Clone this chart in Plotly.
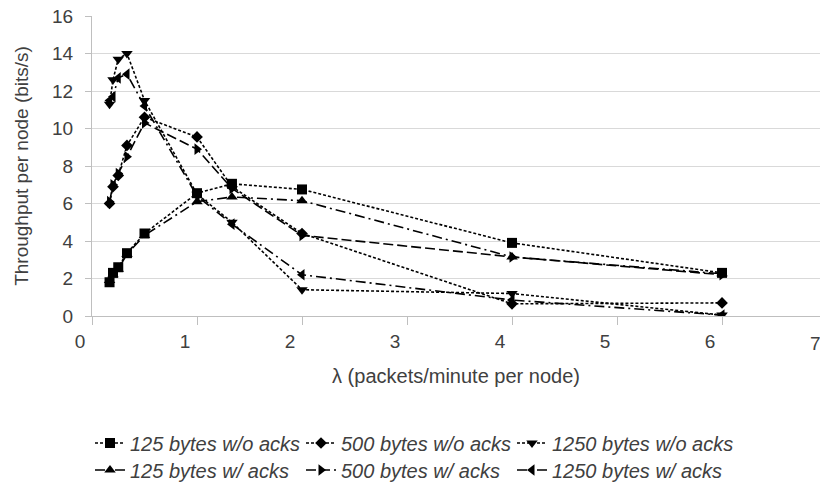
import plotly.graph_objects as go

# lambda values (packets/minute per node)
lam = [0.167, 0.2, 0.25, 0.333, 0.5, 1.0, 1.333, 2.0, 4.0, 6.0]

s125_noack = [1.8, 2.3, 2.6, 3.35, 4.4, 6.55, 7.05, 6.75, 3.9, 2.3]
s500_noack = [6.0, 6.9, 7.5, 9.1, 10.6, 9.55, 6.9, 4.4, 0.65, 0.7]
s1250_noack = [11.3, 12.6, 13.7, 14.0, 11.5, 6.5, 5.0, 1.4, 1.2, 0.05]
s125_ack = [1.9, 2.2, 2.5, 3.3, 4.3, 6.1, 6.35, 6.15, 3.15, 2.25]
s500_ack = [6.1, 7.0, 7.6, 8.5, 10.3, 8.9, 6.8, 4.3, 3.15, 2.2]
s1250_ack = [11.5, 11.7, 12.7, 12.9, 11.2, 6.4, 4.9, 2.2, 0.85, 0.05]

names = ["125 bytes w/o acks", "500 bytes w/o acks", "1250 bytes w/o acks",
         "125 bytes w/ acks", "500 bytes w/ acks", "1250 bytes w/ acks"]
series = [s125_noack, s500_noack, s1250_noack, s125_ack, s500_ack, s1250_ack]
symbols = ["square", "diamond", "triangle-down", "triangle-up", "triangle-right", "triangle-left"]
sizes = [10, 9, 10, 10, 10, 10]
dashes = ["3px,2px", "3px,2px", "3px,2px", "10px,4px,2px,4px", "10px,4px", "10px,4px,2px,4px"]
legends = ["legend", "legend", "legend", "legend2", "legend2", "legend2"]
leg_widths = [166, 166, 210, 166, 166, 210]

x_ticks = [0, 1, 2, 3, 4, 5, 6, 7]
y_ticks = [0, 2, 4, 6, 8, 10, 12, 14, 16]

TXT = "#404040"
FONT = "Liberation Sans, Arial"
fig = go.Figure()
for nm, ys, sym, sz, ds, lg, lw in zip(names, series, symbols, sizes, dashes, legends, leg_widths):
    fig.add_trace(go.Scatter(
        x=lam, y=ys, name=nm, mode="lines+markers",
        line=dict(color="black", width=1.6, dash=ds),
        marker=dict(symbol=sym, size=sz, color="black"),
        legend=lg, legendwidth=lw,
    ))

leg_common = dict(orientation="h", xref="container", yref="container",
                  xanchor="left", yanchor="middle", itemwidth=30,
                  entrywidth=166, bgcolor="rgba(0,0,0,0)",
                  font=dict(family=FONT, size=20, color=TXT, style="italic"))

fig.update_layout(
    width=820, height=483,
    margin=dict(l=92, r=0, t=16, b=167),
    plot_bgcolor="white", paper_bgcolor="white",
    showlegend=True,
    legend=dict(x=90 / 820, y=1 - 443 / 483, **leg_common),
    legend2=dict(x=90 / 820, y=1 - 470 / 483, **leg_common),
    xaxis=dict(
        range=[0, 6.933], tickmode="array", tickvals=x_ticks,
        ticktext=[str(v) for v in x_ticks],
        showgrid=False, zeroline=False,
        showline=True, linecolor="#bfbfbf", linewidth=1,
        ticks="outside", ticklen=8, tickcolor="#bfbfbf",
        ticklabelshift=-12,
        tickfont=dict(family=FONT, size=19, color=TXT),
        title=dict(text="λ (packets/minute per node)", standoff=18,
                   font=dict(family=FONT, size=20, color=TXT)),
    ),
    yaxis=dict(
        range=[0, 16], tickmode="array", tickvals=y_ticks,
        ticktext=[str(v) for v in y_ticks],
        showgrid=True, gridcolor="#d9d9d9", gridwidth=1, zeroline=False,
        showline=True, linecolor="#bfbfbf", linewidth=1,
        ticks="outside", ticklen=6, tickcolor="#bfbfbf",
        ticklabelstandoff=8,
        tickfont=dict(family=FONT, size=19, color=TXT),
        title=dict(text="Throughput per node (bits/s)", standoff=18,
                   font=dict(family=FONT, size=19, color=TXT)),
    ),
    annotations=[dict(text="7", xref="paper", yref="paper",
                      x=(815 - 92) / 728, y=1 - (343 - 16) / 300, showarrow=False,
                      xanchor="center", yanchor="middle",
                      font=dict(family=FONT, size=19, color=TXT))],
)

fig.write_html("out.html")
